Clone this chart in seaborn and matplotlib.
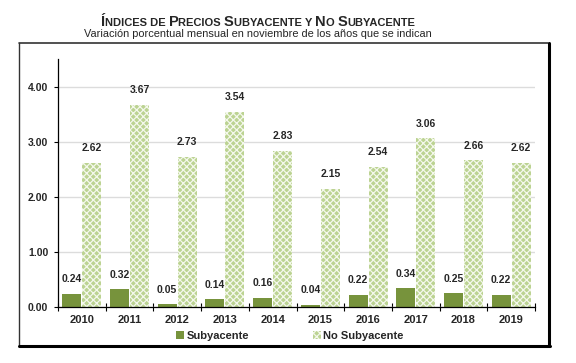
import matplotlib
matplotlib.use("Agg")
import matplotlib.pyplot as plt
import seaborn as sns
import pandas as pd
import numpy as np
from matplotlib.patches import Patch
from matplotlib.lines import Line2D

years = ["2010", "2011", "2012", "2013", "2014", "2015", "2016", "2017", "2018", "2019"]
subyacente = [0.24, 0.32, 0.05, 0.14, 0.16, 0.04, 0.22, 0.34, 0.25, 0.22]
no_subyacente = [2.62, 3.67, 2.73, 3.54, 2.83, 2.15, 2.54, 3.06, 2.66, 2.62]
series = ["Subyacente", "No Subyacente"]

df = pd.DataFrame({
    "anio": years * 2,
    "valor": subyacente + no_subyacente,
    "serie": [series[0]] * len(years) + [series[1]] * len(years),
})

sns.set_theme(style="white")
plt.rcParams["font.family"] = ["Liberation Sans", "DejaVu Sans"]
plt.rcParams["hatch.linewidth"] = 0.9

dark = "#77933C"
light = "#BCD392"

fig = plt.figure(figsize=(5.76, 3.63), dpi=100)
ax = fig.add_axes([58 / 576, 1 - 307 / 363, 477 / 576, 248 / 363])

sns.barplot(data=df, x="anio", y="valor", hue="serie", ax=ax,
            palette=[dark, light], width=0.84, gap=0.05, legend=False,
            saturation=1)

for i, cont in enumerate(ax.containers):
    for bar in cont:
        if i == 1:
            bar.set_hatch("xxxxx")
            bar.set_edgecolor("#F4F8EC")
            bar.set_linewidth(0)
        else:
            bar.set_edgecolor("none")
    ax.bar_label(cont, fmt="%.2f", padding=7, fontsize=7.5, fontweight="bold")

ax.set_ylim(0, 4.5)
ax.set_xlim(-0.5, 9.5)
ax.set_yticks([0, 1, 2, 3, 4])
ax.set_yticklabels([f"{v:.2f}" for v in [0, 1, 2, 3, 4]], fontsize=7.5, fontweight="bold")
ax.tick_params(axis="y", left=True, direction="out", length=3, width=0.8, pad=4, color="black")
ax.set_xticks(np.arange(-0.5, 10, 1), minor=False)
ax.set_xticklabels([])
ax.set_xticks(np.arange(10), minor=True)
ax.set_xticklabels(years, minor=True, fontsize=8, fontweight="bold")
ax.tick_params(axis="x", which="major", bottom=True, direction="inout", length=6, width=0.8, color="black")
ax.tick_params(axis="x", which="minor", bottom=False, pad=2)
ax.yaxis.grid(True, color="#DCDCDC", linewidth=1)
ax.set_axisbelow(True)
ax.set_xlabel("")
ax.set_ylabel("")
for s in ["top", "right"]:
    ax.spines[s].set_visible(False)
for s in ["left", "bottom"]:
    ax.spines[s].set_color("black")
    ax.spines[s].set_linewidth(0.9)

handles = [Patch(facecolor=dark, edgecolor="none"),
           Patch(facecolor=light, edgecolor="#F4F8EC", hatch="xxxxx", linewidth=0)]
fig.legend(handles, series, loc="center", bbox_to_anchor=(290 / 576, 1 - 336 / 363),
           ncol=2, frameon=False, prop={"weight": "bold", "size": 8},
           handlelength=0.7, handleheight=0.7, handletextpad=0.2, columnspacing=5.8)

# marco alrededor del grafico
W, H = 576, 363
fig.add_artist(Line2D([19 / W, 548 / W], [1 - 43 / H, 1 - 43 / H], color="#333333", lw=1.2))
fig.add_artist(Line2D([19 / W, 19 / W], [1 - 43 / H, 1 - 345 / H], color="#333333", lw=1.0))
fig.add_artist(Line2D([549 / W, 549 / W], [1 - 43 / H, 1 - 346 / H], color="black", lw=2.2))
fig.add_artist(Line2D([19 / W, 550 / W], [1 - 345.5 / H, 1 - 345.5 / H], color="black", lw=2.2))

# titulo en versalitas
pieces = [("Í", 10.5), ("NDICES DE ", 8), ("P", 10.5), ("RECIOS ", 8), ("S", 10.5),
          ("UBYACENTE ", 8), ("Y ", 8), ("N", 10.5), ("O ", 8), ("S", 10.5), ("UBYACENTE", 8)]
fig.canvas.draw()
renderer = fig.canvas.get_renderer()
texts = []
for txt, size in pieces:
    t = fig.text(0, 1 - 26 / H, txt.replace(" ", "\u00a0"), fontsize=size,
                 fontweight="bold", ha="left", va="baseline")
    texts.append(t)
widths = [t.get_window_extent(renderer).width for t in texts]
x = 258 - sum(widths) / 2
for t, w in zip(texts, widths):
    t.set_x(x / W)
    x += w

fig.text(258 / W, 1 - 37 / H, "Variación porcentual mensual en noviembre de los años que se indican",
         fontsize=7.9, ha="center", va="baseline")

fig.savefig("out.png", dpi=100)
